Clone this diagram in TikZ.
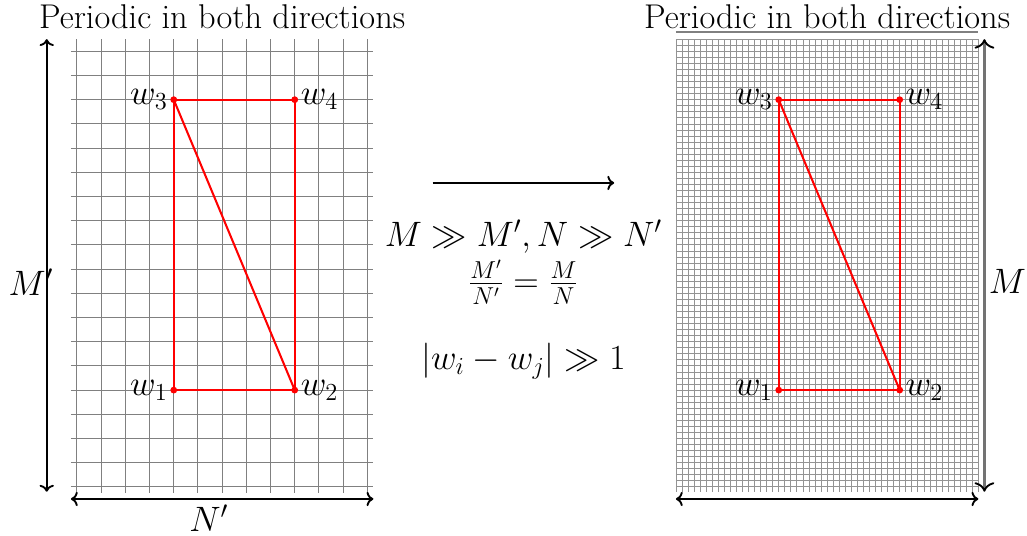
\documentclass[tikz,border=0pt]{standalone}
\usepackage{amsmath,amssymb}
\usetikzlibrary{arrows.meta,calc,positioning}
\tikzset{
    mygrid/.style={draw=gray,line width=0.6pt},
    myfine/.style={draw=gray!85,line width=0.45pt},
    myedge/.style={red,line width=1.2pt},
    myarrow/.style={line width=1.1pt,draw=black},
    every node/.style={font=\fontsize{20.2}{24}\selectfont}
}

\begin{document}
\begin{tikzpicture}[x=0.5cm,y=0.5cm]
  \useasboundingbox (-3.18,-2.02) rectangle (39.26,20.12);
  % coarse lattice
  \draw[mygrid,step=1] (-0.25,-0.25) grid (12.25,18.5);
  \coordinate (w1) at (4,4);
  \coordinate (w2) at (9,4);
  \coordinate (w3) at (4,16);
  \coordinate (w4) at (9,16);
  \draw[myedge] (w1)--(w2)--(w4)--(w3)--cycle;
  \draw[myedge] (w3)--(w2);
  \foreach \P in {w1,w2,w3,w4}{\fill[red] (\P) circle (2pt);}
  \node[left] (l1) at (w1) {$w_1$};
  \node[right] (l2) at (w2) {$w_2$};
  \node[left] (l3) at (w3) {$w_3$};
  \node[right] (l4) at (w4) {$w_4$};
  \coordinate (mt) at (-1.25,18.5);
  \coordinate (mb) at (-1.25,-0.2);
  \draw[myarrow,<->] (mb)--(mt);
  \node (mlab) at (-1.9,8.45) {$M'$};
  \coordinate (nl) at (-0.25,-0.5);
  \coordinate (nr) at (12.25,-0.5);
  \draw[myarrow,<->] (nl)--(nr);
  \node[inner sep=0pt] (nlab) at (5.45,-1.3) {$N'$};
  \node (title) at (6,19.44) {Periodic in both directions};

  % limit
  \coordinate (ga) at (14.7,12.56);
  \coordinate (gb) at (22.2,12.56);
  \draw[myarrow,->] (ga)--(gb);
  \node (cond) at (18.45,10.33) {$M \gg M', N \gg N'$};
  \node[inner sep=1pt] (ratio) at (18.45,8.45) {$\frac{M'}{N'} = \frac{M}{N}$};
  \node (dist) at (18.45,5.2) {$|w_i - w_j| \gg 1$};

  % fine lattice
  \begin{scope}[shift={(25,0)}]
    \draw[myfine,step=0.25] (-0.25,-0.2) grid (12.25,18.5);
    \draw[gray,line width=0.9pt] (-0.25,18.8)--(12.25,18.8);
    \coordinate (v1) at (4,4);
    \coordinate (v2) at (9,4);
    \coordinate (v3) at (4,16);
    \coordinate (v4) at (9,16);
    \draw[myedge] (v1)--(v2)--(v4)--(v3)--cycle;
    \draw[myedge] (v3)--(v2);
    \foreach \P in {v1,v2,v3,v4}{\fill[red] (\P) circle (2pt);}
    \node[left] (k1) at (v1) {$w_1$};
    \node[right] (k2) at (v2) {$w_2$};
    \node[left] (k3) at (v3) {$w_3$};
    \node[right] (k4) at (v4) {$w_4$};
    \coordinate (Mt) at (12.5,18.5);
    \coordinate (Mb) at (12.5,-0.2);
    \draw[line width=1.8pt,gray!90!black,{To[black,line width=1.1pt]}-{To[black,line width=1.1pt]}] (Mb)--(Mt);
    \node (Mlab) at (13.45,8.5) {$M$};
    \coordinate (Nl) at (-0.25,-0.5);
    \coordinate (Nr) at (12.25,-0.5);
    \draw[myarrow,<->] (Nl)--(Nr);
    \node (title2) at (6,19.44) {Periodic in both directions};
  \end{scope}
\end{tikzpicture}
\end{document}
